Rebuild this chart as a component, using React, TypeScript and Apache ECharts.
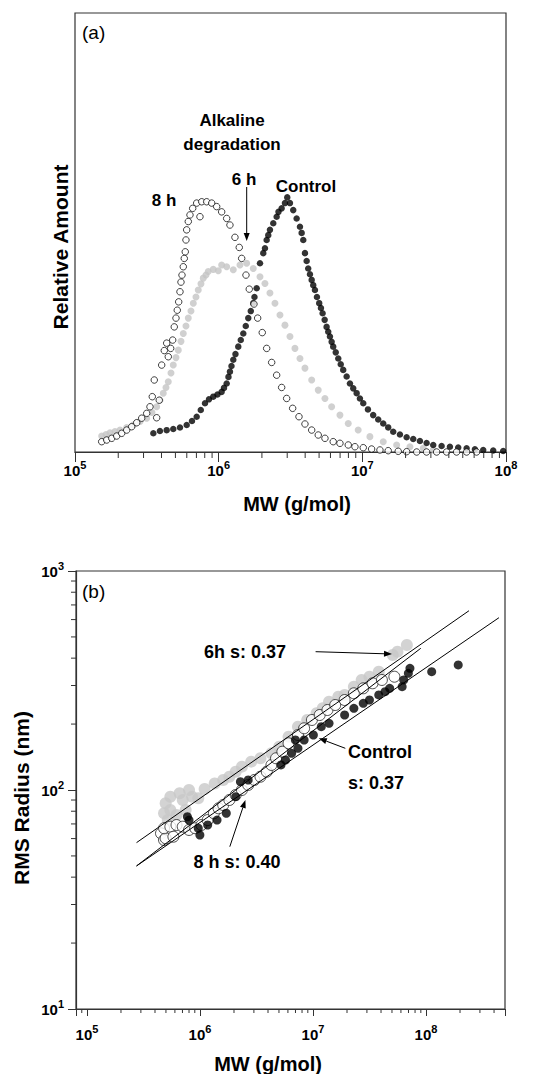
import React, { useEffect, useRef } from "react";
import * as echarts from "echarts";

const FONT = '"Liberation Sans", Arial, Helvetica, sans-serif';

// ---------- Panel (a): MW distribution (MW g/mol, relative amount) ----------
const ctrlA: number[][] = [
  [3.51e5, 4.26], [3.9e5, 4.78], [4.346e5, 4.97], [4.83e5, 5.24], [5.379e5, 5.58], [5.99e5, 6.15], [6.52e5, 7.06],
  [7.03e5, 8.04], [7.506e5, 9.57], [8.03e5, 11.1], [8.56e5, 12.0], [9.17e5, 12.6], [9.81e5, 13.1], [1.049e6, 13.7],
  [1.089e6, 14.6], [1.137e6, 15.6], [1.17e6, 17.1], [1.198e6, 18.3], [1.228e6, 19.6], [1.264e6, 21.0], [1.309e6, 22.3],
  [1.369e6, 24.0], [1.425e6, 25.5], [1.484e6, 27.0], [1.544e6, 28.7], [1.607e6, 30.5], [1.673e6, 32.1], [1.741e6, 33.9],
  [1.775e6, 35.3], [1.839e6, 37.3], [1.939e6, 43.0], [2.044e6, 45.3], [2.1e6, 46.4], [2.158e6, 48.3], [2.214e6, 49.4],
  [2.275e6, 50.6], [2.399e6, 52.1], [2.533e6, 53.6], [2.608e6, 54.7], [2.744e6, 55.5], [2.893e6, 56.7], [3.002e6, 58.0],
  [3.135e6, 56.7], [3.304e6, 55.1], [3.489e6, 53.2], [3.68e6, 51.3], [3.781e6, 49.9], [3.88e6, 48.3], [3.987e6, 45.3],
  [4.097e6, 43.5], [4.2e6, 41.8], [4.319e6, 40.5], [4.44e6, 39.2], [4.553e6, 38.0], [4.68e6, 36.9], [4.832e6, 35.3],
  [5.01e6, 33.9], [5.152e6, 32.8], [5.29e6, 31.6], [5.467e6, 30.1], [5.64e6, 28.5], [5.79e6, 27.4], [5.95e6, 26.3],
  [6.115e6, 25.1], [6.27e6, 24.0], [6.53e6, 22.7], [6.8e6, 21.3], [7.074e6, 20.0], [7.36e6, 18.7], [7.777e6, 17.2],
  [8.2e6, 15.6], [8.643e6, 14.5], [9.13e6, 13.4], [9.62e6, 12.2], [1.015e7, 11.1], [1.094e7, 9.7], [1.19e7, 8.4],
  [1.29e7, 7.4], [1.398e7, 6.5], [1.514e7, 5.6], [1.641e7, 4.6], [1.827e7, 4.0], [2.034e7, 3.35], [2.261e7, 2.96],
  [2.517e7, 2.5], [2.802e7, 2.05], [3.115e7, 1.6], [3.563e7, 1.37], [4.07e7, 1.2], [4.65e7, 1.03], [5.32e7, 0.84],
  [6.075e7, 0.64], [6.94e7, 0.46], [8.147e7, 0.34], [9.56e7, 0.23],
];

const h6A: number[][] = [
  [1.534e5, 3.64], [1.643e5, 3.99], [1.752e5, 4.4], [1.898e5, 4.67], [2.057e5, 5.0], [2.29e5, 5.58], [2.545e5, 6.15],
  [2.834e5, 6.95], [3.155e5, 7.7], [3.434e5, 9.0], [3.702e5, 10.3], [3.905e5, 11.8], [4.116e5, 13.4], [4.298e5, 14.7],
  [4.46e5, 16.0], [4.657e5, 18.0], [4.83e5, 19.8], [5.045e5, 21.5], [5.236e5, 23.2], [5.466e5, 25.2], [5.672e5, 27.0],
  [5.921e5, 28.7], [6.145e5, 30.5], [6.415e5, 32.1], [6.66e5, 33.9], [6.95e5, 35.3], [7.21e5, 36.9], [7.53e5, 38.3],
  [7.81e5, 39.6], [8.16e5, 40.3], [8.46e5, 41.1], [9.17e5, 41.6], [9.94e5, 41.3], [1.049e6, 42.6], [1.137e6, 42.2],
  [1.264e6, 41.5], [1.407e6, 42.6], [1.566e6, 43.0], [1.741e6, 41.8], [1.939e6, 39.9], [2.1e6, 38.4], [2.275e6, 36.2],
  [2.465e6, 33.9], [2.671e6, 31.2], [2.893e6, 28.9], [3.135e6, 26.3], [3.396e6, 23.6], [3.68e6, 21.3], [3.987e6, 19.1],
  [4.44e6, 16.4], [4.933e6, 14.1], [5.494e6, 12.2], [6.115e6, 10.3], [6.985e6, 8.4], [7.98e6, 6.5], [9.36e6, 5.0],
  [1.129e7, 3.5], [1.398e7, 2.35], [1.733e7, 1.6], [2.145e7, 1.2], [2.653e7, 0.84], [3.115e7, 0.46],
];

const h8A: number[][] = [
  [1.534e5, 2.35], [1.662e5, 2.73], [1.802e5, 3.12], [1.951e5, 3.64], [2.113e5, 4.26], [2.29e5, 5.0], [2.48e5, 5.76],
  [2.689e5, 6.67], [2.912e5, 7.7], [3.155e5, 8.8], [3.326e5, 10.3], [3.451e5, 12.6], [3.563e5, 16.4], [3.702e5, 7.8],
  [3.86e5, 11.8], [4.012e5, 19.8], [4.183e5, 23.1], [4.346e5, 24.8], [4.46e5, 21.7], [4.634e5, 23.6], [4.785e5, 25.5],
  [4.909e5, 28.5], [5.045e5, 30.5], [5.151e5, 32.3], [5.268e5, 34.2], [5.379e5, 36.5], [5.466e5, 38.7], [5.555e5, 40.3],
  [5.672e5, 42.2], [5.763e5, 44.1], [5.856e5, 45.6], [5.921e5, 48.3], [5.988e5, 50.6], [6.145e5, 52.5], [6.314e5, 54.0],
  [6.594e5, 55.5], [7.03e5, 56.7], [7.41e5, 53.6], [7.616e5, 57.0], [8.25e5, 57.0], [8.94e5, 56.7], [9.685e5, 55.9],
  [1.049e6, 54.7], [1.137e6, 53.2], [1.198e6, 51.7], [1.298e6, 48.9], [1.391e6, 46.6], [1.446e6, 44.1], [1.549e6, 40.3],
  [1.633e6, 37.1], [1.761e6, 33.7], [1.868e6, 30.5], [2.011e6, 27.2], [2.158e6, 23.6], [2.338e6, 20.4], [2.533e6, 17.5],
  [2.744e6, 14.7], [2.973e6, 12.2], [3.273e6, 9.95], [3.622e6, 8.04], [3.987e6, 6.38], [4.44e6, 5.0], [4.933e6, 3.87],
  [5.494e6, 3.12], [6.27e6, 2.35], [6.985e6, 1.98], [7.98e6, 1.6], [8.88e6, 1.2], [1.015e7, 0.98], [1.16e7, 0.68],
  [1.326e7, 0.46], [1.514e7, 0.3], [1.778e7, 0.16], [2.034e7, 0.07], [2.39e7, 0], [2.8e7, 0], [3.29e7, 0], [3.86e7, 0],
  [4.53e7, 0], [5.32e7, 0], [6.24e7, 0],
];

// ---------- Panel (b): RMS radius vs MW ----------
const h6B: number[][] = [
  [4.81e5, 78.3], [4.97e5, 87.0], [5.19e5, 72.9], [5.47e5, 93.2], [5.47e5, 81.0], [6.2e5, 76.9], [6.61e5, 96.6],
  [7.04e5, 90.0], [7.47e5, 81.0], [8.0e5, 100], [8.52e5, 93.2], [9.66e5, 91.6], [1.1e6, 101], [1.35e6, 107],
  [1.605e6, 111.1], [1.82e6, 115.0], [2.07e6, 121.2], [2.35e6, 127.8], [2.84e6, 134.7], [3.43e6, 139.6], [4.29e6, 147.1],
  [5.03e6, 157.6], [6.08e6, 175.2], [7.36e6, 194.5], [8.89e6, 208.8], [1.076e7, 224.0], [1.22e7, 236.1], [1.387e7, 253.1],
  [1.676e7, 266.8], [1.905e7, 271.6], [2.3e7, 296.2], [2.695e7, 318], [3.16e7, 329.1], [3.82e7, 346.9], [5.08e7, 413.5],
  [5.59e7, 428.1], [6.77e7, 459.3],
];

const h8B: number[][] = [
  [4.52e5, 63.4], [4.81e5, 59.1], [4.97e5, 60.2], [4.81e5, 66.9], [5.47e5, 68.0], [5.82e5, 61.2], [6.2e5, 69.2],
  [7.04e5, 68.0], [8.0e5, 65.7], [9.07e5, 66.9], [1.031e6, 69.2], [1.17e6, 72.9], [1.327e6, 78.3], [1.46e6, 82.5],
  [1.605e6, 85.4], [1.82e6, 90.0], [2.07e6, 94.9], [2.35e6, 100], [2.67e6, 105.4], [3.03e6, 111.1], [3.43e6, 115.0],
  [3.9e6, 121.2], [4.29e6, 130.1], [4.71e6, 139.6], [5.36e6, 149.6], [6.08e6, 163.4], [7.36e6, 178.3], [8.35e6, 191.3],
  [9.78e6, 208.8], [1.146e7, 220.0], [1.343e7, 231.9], [1.573e7, 244.4], [1.905e7, 257.6], [2.3e7, 276.4],
  [2.785e7, 291.3], [3.37e7, 307.1], [4.07e7, 318], [5.25e7, 329.1],
];

const ctrlB: number[][] = [
  [7.74e5, 75.5], [8.0e5, 72.9], [9.66e5, 66.9], [9.98e5, 62.3], [1.17e6, 69.2], [1.416e6, 72.9], [1.71e6, 78.3],
  [2.07e6, 93.2], [2.28e6, 109.1], [2.67e6, 111.1], [5.21e6, 130.1], [5.71e6, 137.1], [6.47e6, 147.1], [6.99e6, 169.2],
  [7.36e6, 155.0], [8.35e6, 169.2], [1.008e7, 178.3], [1.184e7, 194.5], [1.387e7, 201.6], [1.905e7, 220], [2.3e7, 236.1],
  [2.785e7, 248.8], [3.16e7, 257.6], [3.82e7, 271.6], [4.34e7, 281.2], [4.77e7, 291.3], [6.15e7, 296.2], [6.35e7, 318],
  [6.98e7, 341.1], [7.21e7, 359.5], [1.123e8, 346.9], [1.928e8, 372.3],
];

// power-law fit lines (end points)
const fit6h: number[][] = [[2.746e5, 57.5], [2.4e8, 658.6]];
const fitCtrl: number[][] = [[2.746e5, 45.0], [4.42e8, 612]];
const fit8h: number[][] = [[2.746e5, 45.0], [8.99e7, 443.6]];

// minor tick positions
const minorTopX: number[] = [2e5, 3e5, 4e5, 5e5, 6e5, 7e5, 8e5, 9e5, 2e6, 3e6, 4e6, 5e6, 6e6, 7e6, 8e6, 9e6, 2e7, 3e7, 4e7, 5e7, 6e7, 7e7, 8e7, 9e7];
const minorBotX: number[] = [9e4, 2e5, 3e5, 4e5, 5e5, 6e5, 7e5, 8e5, 9e5, 2e6, 3e6, 4e6, 5e6, 6e6, 7e6, 8e6, 9e6, 2e7, 3e7, 4e7, 5e7, 6e7, 7e7, 8e7, 9e7, 2e8, 3e8, 4e8];
const minorBotY: number[] = [20, 30, 40, 50, 60, 70, 80, 90, 200, 300, 400, 500, 600, 700, 800, 900];

function powLabel(v: number): string {
  const l = Math.log10(v);
  const r = Math.round(l);
  if (Math.abs(l - r) > 1e-6) return "";
  return `{b|10}{s|${r}}`;
}

const richPow = {
  b: { fontSize: 15, fontWeight: "bold", fontFamily: FONT, color: "#000", lineHeight: 22 },
  s: { fontSize: 11, fontWeight: "bold", fontFamily: FONT, color: "#000", lineHeight: 12, verticalAlign: "top" },
};

const labelBase = { fontSize: 15, fontWeight: "bold", fontFamily: FONT, color: "#000", rich: richPow };

function txt(text: string, x: number, y: number, size: number, bold = true, align = "center", rotation = 0) {
  return {
    type: "text",
    x,
    y,
    rotation,
    silent: true,
    z: 100,
    style: {
      text,
      fill: "#000",
      fontSize: size,
      fontWeight: bold ? "bold" : "normal",
      fontFamily: FONT,
      align,
      verticalAlign: "middle",
    },
  };
}

function arrow(x1: number, y1: number, x2: number, y2: number) {
  const dx = x2 - x1;
  const dy = y2 - y1;
  const len = Math.sqrt(dx * dx + dy * dy);
  const ux = dx / len;
  const uy = dy / len;
  const L = 8;
  const W = 3;
  const bx = x2 - ux * L;
  const by = y2 - uy * L;
  return [
    { type: "line", silent: true, z: 100, shape: { x1, y1, x2: bx, y2: by }, style: { stroke: "#000", lineWidth: 1 } },
    {
      type: "polygon",
      silent: true,
      z: 100,
      shape: { points: [[x2, y2], [bx - uy * W, by + ux * W], [bx + uy * W, by - ux * W]] },
      style: { fill: "#000" },
    },
  ];
}

function minorTickSeries(data: number[][], xi: number, yi: number, dir: "down" | "left", len: number) {
  return {
    type: "custom",
    xAxisIndex: xi,
    yAxisIndex: yi,
    silent: true,
    clip: false,
    z: 5,
    data,
    renderItem: (_p: any, api: any) => {
      const p = api.coord([api.value(0), api.value(1)]);
      const x2 = dir === "left" ? p[0] - len : p[0];
      const y2 = dir === "down" ? p[1] + len : p[1];
      return { type: "line", shape: { x1: p[0], y1: p[1], x2, y2 }, style: { stroke: "#333", lineWidth: 1 } };
    },
  };
}

const axisLineStyle = { show: true, lineStyle: { color: "#333", width: 1.2 } };

export default function App() {
  const ref = useRef<HTMLDivElement>(null);
  useEffect(() => {
    if (!ref.current) return;
    const chart = echarts.init(ref.current, undefined, { renderer: "svg" });
    const option: any = {
      animation: false,
      backgroundColor: "#fff",
      grid: [
        { left: 75, top: 13, width: 431, height: 439, show: true, borderColor: "#333", borderWidth: 1.2 },
        { left: 76, top: 571, width: 429, height: 438, show: true, borderColor: "#333", borderWidth: 1.2 },
      ],
      xAxis: [
        {
          type: "log",
          logBase: 10,
          gridIndex: 0,
          min: 1e5,
          max: 1e8,
          axisLine: axisLineStyle,
          axisTick: { show: true, inside: false, length: 10, lineStyle: { color: "#333", width: 1 } },
          axisLabel: { ...labelBase, formatter: powLabel, margin: 7 },
          splitLine: { show: false },
        },
        {
          type: "log",
          logBase: 10,
          gridIndex: 1,
          min: 8e4,
          max: 5e8,
          axisLine: axisLineStyle,
          axisTick: { show: true, inside: false, length: 7, lineStyle: { color: "#333", width: 1 } },
          axisLabel: { ...labelBase, formatter: powLabel, margin: 14 },
          splitLine: { show: false },
        },
      ],
      yAxis: [
        { type: "value", gridIndex: 0, min: 0, max: 100, show: false },
        {
          type: "log",
          logBase: 10,
          gridIndex: 1,
          min: 10,
          max: 1000,
          axisLine: axisLineStyle,
          axisTick: { show: true, inside: false, length: 8, lineStyle: { color: "#333", width: 1 } },
          axisLabel: { ...labelBase, formatter: powLabel, margin: 12 },
          splitLine: { show: false },
        },
      ],
      series: [
        { name: "6 h", type: "scatter", xAxisIndex: 0, yAxisIndex: 0, data: h6A, symbolSize: 7, silent: true, z: 2,
          itemStyle: { color: "#c4c4c4" } },
        { name: "Control", type: "scatter", xAxisIndex: 0, yAxisIndex: 0, data: ctrlA, symbolSize: 6.5, silent: true, z: 3,
          itemStyle: { color: "#000" } },
        { name: "8 h", type: "scatter", xAxisIndex: 0, yAxisIndex: 0, data: h8A, symbolSize: 6.5, silent: true, z: 4,
          itemStyle: { color: "#fff", borderColor: "#111", borderWidth: 1 } },
        minorTickSeries(minorTopX.map((v) => [v, 0]), 0, 0, "down", 6),

        { name: "6 h b", type: "scatter", xAxisIndex: 1, yAxisIndex: 1, data: h6B, symbolSize: 12, silent: true, z: 2,
          itemStyle: { color: "#c8c8c8" } },
        { name: "8 h b", type: "scatter", xAxisIndex: 1, yAxisIndex: 1, data: h8B, symbolSize: 11, silent: true, z: 3,
          itemStyle: { color: "#fff", borderColor: "#222", borderWidth: 1 } },
        { name: "Control b", type: "scatter", xAxisIndex: 1, yAxisIndex: 1, data: ctrlB, symbolSize: 9, silent: true, z: 4,
          itemStyle: { color: "#000" } },
        { name: "fit 6h", type: "line", xAxisIndex: 1, yAxisIndex: 1, data: fit6h, symbol: "none", silent: true, z: 6,
          lineStyle: { color: "#000", width: 1 } },
        { name: "fit control", type: "line", xAxisIndex: 1, yAxisIndex: 1, data: fitCtrl, symbol: "none", silent: true, z: 6,
          lineStyle: { color: "#000", width: 1 } },
        { name: "fit 8h", type: "line", xAxisIndex: 1, yAxisIndex: 1, data: fit8h, symbol: "none", silent: true, z: 6,
          lineStyle: { color: "#000", width: 1 } },
        minorTickSeries(minorBotX.map((v) => [v, 10]), 1, 1, "down", 4),
        minorTickSeries(minorBotY.map((v) => [8e4, v]), 1, 1, "left", 5),
      ],
      graphic: [
        txt("(a)", 82, 32, 19, false, "left"),
        txt("Alkaline", 232, 120, 17),
        txt("degradation", 232, 144, 17),
        txt("8 h", 164, 200, 17),
        txt("6 h", 244, 179, 17),
        txt("Control", 306, 186, 17),
        ...arrow(246.7, 187, 246.7, 241),
        txt("Relative Amount", 60, 247, 21, true, "center", Math.PI / 2),
        txt("MW (g/mol)", 297, 504, 20),

        txt("(b)", 82, 591, 19, false, "left"),
        txt("6h s: 0.37", 245, 652, 18),
        ...arrow(315.6, 651.7, 392, 654),
        txt("Control", 348, 751.5, 18, true, "left"),
        txt("s: 0.37", 348, 783.3, 18, true, "left"),
        ...arrow(345.3, 748.3, 318.8, 738.3),
        txt("8 h s: 0.40", 237, 861.7, 18),
        ...arrow(229.8, 846.7, 245.4, 800),
        txt("RMS Radius (nm)", 21, 798, 21, true, "center", Math.PI / 2),
        txt("MW (g/mol)", 268, 1064, 20),
      ],
    };
    chart.setOption(option);
    return () => chart.dispose();
  }, []);
  return <div ref={ref} style={{ position: "absolute", left: 0, top: 0, width: 550, height: 1074 }} />;
}
